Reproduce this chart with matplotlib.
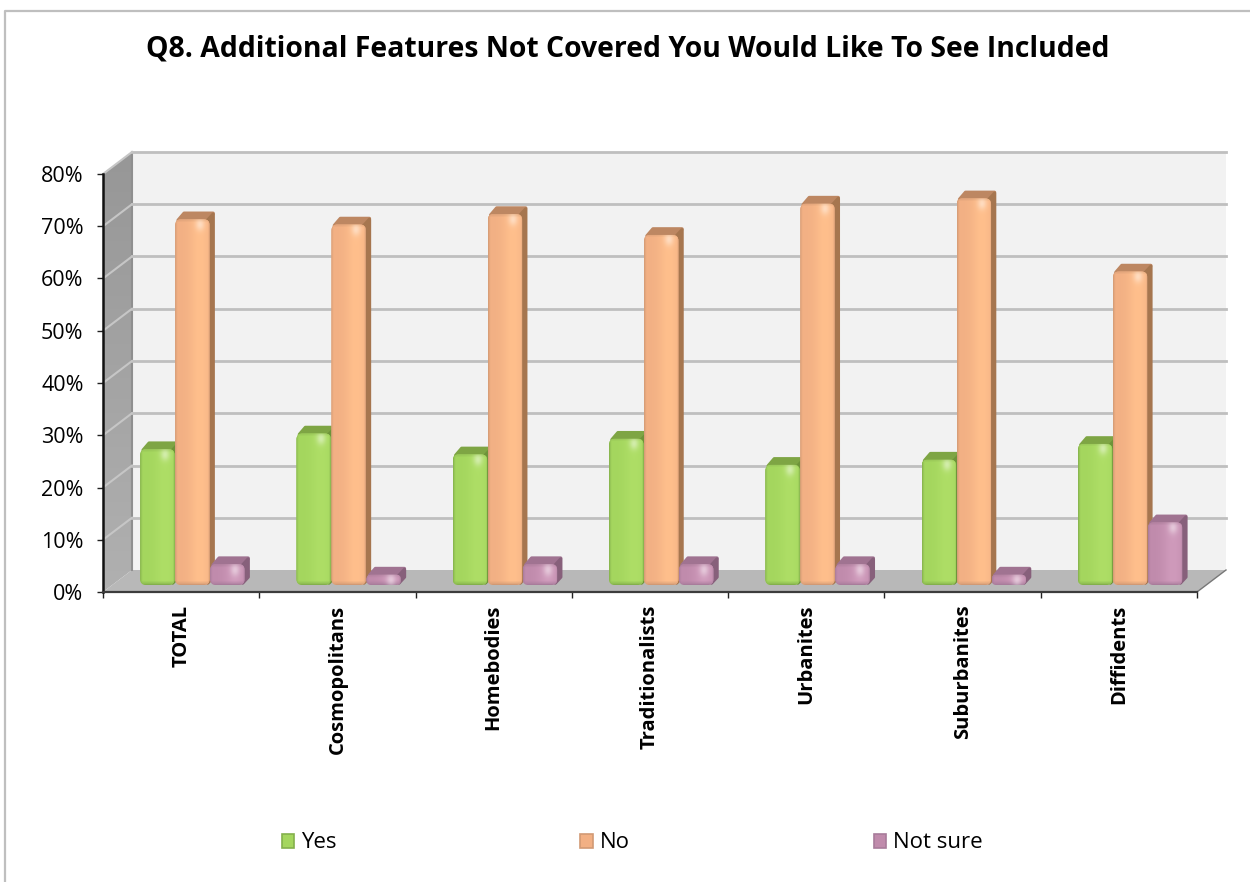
import numpy as np
import matplotlib
matplotlib.use('Agg')
import matplotlib.pyplot as plt
from matplotlib.colors import LinearSegmentedColormap, to_rgb
from matplotlib.patches import FancyBboxPatch, Polygon, Patch
from matplotlib.lines import Line2D

# Survey results, percent of respondents
segments = ['TOTAL', 'Cosmopolitans', 'Homebodies', 'Traditionalists',
            'Urbanites', 'Suburbanites', 'Diffidents']
yes = [26, 29, 25, 28, 23, 24, 27]
no = [70, 69, 71, 67, 73, 74, 60]
not_sure = [4, 2, 4, 4, 4, 2, 12]
y_ticks = [0, 10, 20, 30, 40, 50, 60, 70, 80]

W, H = 1250, 882
plt.rcParams['font.family'] = ['Open Sans', 'DejaVu Sans']

fig = plt.figure(figsize=(W / 100, H / 100), dpi=100)

# Front plane of the fake 3D box, in figure pixels
left, right, bottom, top = 103, 1197, 592, 174
ax = fig.add_axes([left / W, 1 - bottom / H, (right - left) / W, (bottom - top) / H])
ax.set_xlim(0, 7)
ax.set_ylim(0, 80)
ax.patch.set_visible(False)

# Data units per pixel
px_x = 7 / (right - left)
px_y = 80 / (bottom - top)

# Box depth and how far the bars sit inside it
depth_x, depth_y = 29 * px_x, 22 * px_y
inset_x, inset_y = 11.5 * px_x, 7 * px_y
# Depth of one bar
bar_dx, bar_dy = 5.5 * px_x, 8 * px_y
bar_w = 35 * px_x


def poly(pts, color, z, lw=0):
    p = Polygon(pts, closed=True, facecolor=color, edgecolor=color, linewidth=lw,
                joinstyle='round', clip_on=False, zorder=z)
    ax.add_patch(p)
    return p


# Back wall, floor and side wall
poly([(depth_x, depth_y), (7 + depth_x, depth_y), (7 + depth_x, 80 + depth_y), (depth_x, 80 + depth_y)], '#f2f2f2', 1)
poly([(0, 0), (7, 0), (7 + depth_x, depth_y), (depth_x, depth_y)], '#b8b8b8', 1.2)
side = poly([(0, 0), (depth_x, depth_y), (depth_x, 80 + depth_y), (0, 80)], 'none', 1.1)
wall_cmap = LinearSegmentedColormap.from_list('wall', ['#979797', '#b0b0b0'])
im = ax.imshow(np.linspace(0, 1, 64).reshape(-1, 1), extent=(0, depth_x, 0, 80 + depth_y),
               origin='upper', aspect='auto', cmap=wall_cmap, zorder=1.1)
# the wall leans out above the axes box, so clip to the figure plus the wall outline
im.set_clip_box(fig.bbox)
im.set_clip_path(side)
ax.add_line(Line2D([depth_x, depth_x], [depth_y, 80 + depth_y], color='#8f8f8f', lw=1.5, zorder=1.3, clip_on=False))

# Grid lines run along the back wall and down the side wall
for t in y_ticks[1:]:
    ax.add_line(Line2D([depth_x, 7 + depth_x], [t + depth_y] * 2, color='#bfbfbf', lw=2, zorder=1.4, clip_on=False))
    ax.add_line(Line2D([0, depth_x], [t, t + depth_y], color='#c6c6c6', lw=1.5, zorder=1.4, clip_on=False))


def front_image(h, mid, light, edge):
    # horizontal bevel shading with a small glint near the top
    cols = np.linspace(0, 1, 70)
    rows = np.arange(max(int(h), 4))
    prof = np.clip(np.minimum(cols / 0.07, (1 - cols) / 0.05), 0, 1) ** 0.7
    sheen = np.exp(-((cols - 0.72) / 0.3) ** 2)[None, :, None]
    img = mid[None, None, :] * (1 - sheen) + light[None, None, :] * sheen
    img = edge[None, None, :] * (1 - prof[None, :, None]) + img * prof[None, :, None]
    img = np.repeat(img, len(rows), axis=0)
    # rows count down from the top of the bar
    low = np.clip(rows[::-1] / 4, 0, 1)[:, None, None] ** 0.7
    img = edge[None, None, :] * (1 - low) + img * low
    img = img * (0.92 + 0.08 * np.clip(rows / 3, 0, 1)[:, None, None])
    glint = np.exp(-((cols - 0.72) / 0.13) ** 2)[None, :] * np.exp(-((rows - 5) / 6.0) ** 2)[:, None]
    img = img + (1 - img) * glint[:, :, None] * 0.45
    return np.clip(img, 0, 1)


series = [
    ('Yes', yes, 0, '#a4d65e', '#aede66', '#84b04c', '#7ea544', '#6d9339'),
    ('No', no, 1, '#f2b084', '#ffbf8c', '#d29a74', '#bd8762', '#a6764f'),
    ('Not sure', not_sure, 2, '#c08bac', '#cf9abb', '#a87c9b', '#a07391', '#87607b'),
]

group_w = bar_w * 3
for k, (name, vals, slot, mid, light, edge, top_col, side_col) in enumerate(series):
    xs = [i + 0.5 - group_w / 2 + inset_x + slot * bar_w for i in range(len(vals))]
    z = 3 + k
    bars = ax.bar(xs, vals, width=bar_w - 0.5 * px_x, bottom=inset_y, align='edge',
                  color=mid, linewidth=0, zorder=z + 0.2, label=name)
    for rect in bars:
        x0, y0 = rect.get_x(), rect.get_y()
        w, h = rect.get_width(), rect.get_height()
        x1, y1 = x0 + w, y0 + h
        # top and right faces behind the front, thick round edges soften the corners
        poly([(x0 + 3 * px_x, y1 - 1 * px_y), (x0 + 9 * px_x, y1 + bar_dy - 2 * px_y),
              (x1 + bar_dx - 2 * px_x, y1 + bar_dy - 2 * px_y), (x1 - 1 * px_x, y1 - 1 * px_y)],
             top_col, z, lw=2.5)
        poly([(x1 - 2 * px_x, y0 + 2 * px_y), (x1 + bar_dx - 2 * px_x, y0 + bar_dy),
              (x1 + bar_dx - 2 * px_x, y1 + bar_dy - 3 * px_y), (x1 - 2 * px_x, y1 - 1 * px_y)],
             side_col, z + 0.1, lw=2.5)
        radius = min(6, h / px_y / 2) * px_x
        clip = FancyBboxPatch((x0, y0), w, h, boxstyle='round,pad=0,rounding_size=%f' % radius,
                              mutation_aspect=px_y / px_x, facecolor='none', edgecolor='none',
                              zorder=z + 0.2, clip_on=False)
        ax.add_patch(clip)
        rect.set_clip_path(clip)
        img = front_image(h / px_y, np.array(to_rgb(mid)), np.array(to_rgb(light)), np.array(to_rgb(edge)))
        bi = ax.imshow(img, extent=(x0, x1, y0, y1), origin='upper', aspect='auto',
                       interpolation='bilinear', zorder=z + 0.3)
        bi.set_clip_path(clip)

ax.set_xlim(0, 7)
ax.set_ylim(0, 80)

# Axes
for s in ['top', 'right']:
    ax.spines[s].set_visible(False)
ax.spines['left'].set_color('#111111')
ax.spines['left'].set_linewidth(1.8)
ax.spines['bottom'].set_color('#3c3c3c')
ax.spines['bottom'].set_linewidth(1.6)
ax.spines['left'].set_zorder(8)
ax.spines['bottom'].set_zorder(8)
ax.add_line(Line2D([7, 7 + depth_x], [0, depth_y], color='#777777', lw=1, zorder=2, clip_on=False))

ax.set_yticks(y_ticks)
ax.set_yticklabels(['%d%%' % t for t in y_ticks], fontsize=15.5, color='black')
ax.tick_params(axis='y', length=4, width=1, pad=10, color='#222222')
ax.set_xticks(range(8))
ax.set_xticklabels([])
ax.tick_params(axis='x', which='major', length=4.5, width=1, color='#222222')
ax.set_xticks([i + 0.5 for i in range(7)], minor=True)
ax.set_xticklabels(segments, minor=True, rotation=90, fontsize=14.5, fontweight='bold', ha='center', va='top')
ax.tick_params(axis='x', which='minor', length=0, pad=9)

# Title and legend
fig.text(628 / W, 1 - 49 / H, 'Q8. Additional Features Not Covered You Would Like To See Included',
         ha='center', va='center', fontsize=20.4, fontweight='bold', color='black')

handles = [Patch(facecolor=s[3], edgecolor=s[5], linewidth=1.2, label=s[0]) for s in series]
fig.legend(handles=handles, loc='center', bbox_to_anchor=(632 / W, 1 - 843 / H), ncol=3, frameon=False,
           fontsize=16, handlelength=0.55, handleheight=0.6, handletextpad=0.3, columnspacing=11)

# Chart frame
fig.add_artist(Line2D([5 / W, 5 / W, 1], [0, 1 - 11 / H, 1 - 11 / H], color='#bfbfbf', lw=1.6))

fig.savefig('out.png', dpi=100)
